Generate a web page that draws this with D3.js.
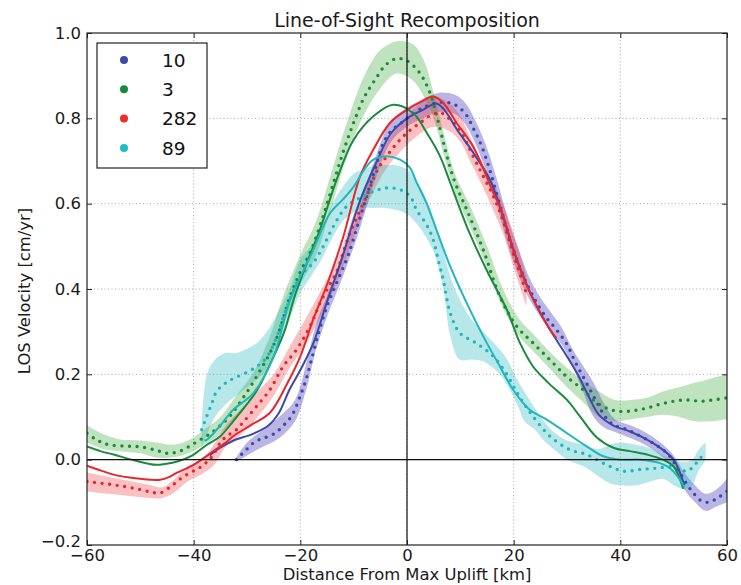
<!DOCTYPE html>
<html>
<head>
<meta charset="utf-8">
<script src="https://cdn.jsdelivr.net/npm/d3@7"></script>
<style>
  html, body { margin: 0; padding: 0; background: #fff; }
  svg { display: block; font-family: "DejaVu Sans", sans-serif; }
</style>
</head>
<body>
<svg id="chart" width="741" height="585"></svg>
<script>
// ---------------- data ----------------
const seriesNames = ["10", "3", "282", "89"];
const xTicks = [-60, -40, -20, 0, 20, 40, 60];
const yTicks = [-0.2, 0.0, 0.2, 0.4, 0.6, 0.8, 1.0];
const titleText = "Line-of-Sight Recomposition";
const xLabelText = "Distance From Max Uplift [km]";
const yLabelText = "LOS Velocity [cm/yr]";

// series "10" (blue)
const dots10 = [[-32,0.0],[-30,0.025],[-28.5,0.042],[-27,0.05],[-25,0.06],[-23,0.082],[-21.5,0.105],[-20,0.15],[-19,0.185],[-18,0.23],[-16.5,0.3],[-15,0.36],[-13,0.42],[-11,0.48],[-9,0.56],[-7.5,0.62],[-6,0.68],[-4.5,0.74],[-3,0.77],[-1,0.79],[1,0.81],[3,0.825],[5,0.835],[7,0.838],[9,0.832],[11,0.81],[12.5,0.775],[14,0.735],[15.5,0.68],[17,0.615],[18.5,0.55],[20,0.49],[22,0.425],[24,0.375],[26,0.335],[28,0.305],[30,0.27],[31.5,0.23],[33,0.195],[34.5,0.16],[36,0.125],[37.5,0.095],[39,0.08],[41,0.072],[43,0.06],[45,0.047],[47,0.032],[48.7,0.016],[50,-0.005],[51.2,-0.031],[52.5,-0.058],[53.7,-0.078],[55,-0.095],[56.2,-0.1],[57.5,-0.095],[58.7,-0.086],[60,-0.074]];
const band10 = [[-32,-0.005,0.005],[-30,0.01,0.04],[-27,0.03,0.07],[-24,0.05,0.1],[-21,0.09,0.14],[-19,0.16,0.22],[-17,0.26,0.32],[-15,0.335,0.385],[-12,0.43,0.48],[-9,0.535,0.585],[-6,0.655,0.705],[-3,0.745,0.795],[0,0.78,0.825],[3,0.8,0.845],[6,0.815,0.86],[9,0.81,0.855],[11,0.785,0.835],[13,0.735,0.79],[15,0.67,0.73],[17,0.59,0.65],[19,0.5,0.56],[21,0.43,0.49],[23,0.375,0.425],[25,0.335,0.38],[27,0.3,0.345],[29,0.27,0.31],[31,0.22,0.26],[33,0.16,0.22],[35,0.1,0.18],[37,0.075,0.13],[39,0.065,0.095],[42,0.05,0.08],[45,0.032,0.062],[48,0.005,0.035],[50,-0.02,0.01],[52,-0.07,-0.03],[54,-0.1,-0.06],[56,-0.12,-0.08],[58,-0.11,-0.07],[60,-0.1,-0.045]];
const solid10 = [[-37,0.01],[-35,0.028],[-32.5,0.045],[-29,0.06],[-26,0.08],[-24,0.11],[-22,0.165],[-20,0.21],[-17.5,0.275],[-15,0.37],[-12,0.48],[-9,0.6],[-6,0.69],[-3,0.765],[0,0.8],[3,0.82],[5.5,0.835],[7,0.82],[9.3,0.775],[12.4,0.72],[15.6,0.655],[17.4,0.594],[20.6,0.469],[23.7,0.375],[26.8,0.305],[30,0.242],[32,0.2],[34,0.15],[36,0.105],[38.7,0.08],[41.8,0.066],[45,0.047],[48,0.023],[50,0.0],[51,-0.025],[52,-0.06]];

// series "3" (green)
const dots3 = [[-60,0.062],[-58,0.045],[-56,0.035],[-53,0.032],[-50,0.03],[-47,0.022],[-45,0.015],[-43,0.018],[-41,0.03],[-39,0.045],[-37,0.06],[-35,0.08],[-33,0.105],[-31,0.14],[-29.4,0.17],[-27.5,0.21],[-25.7,0.25],[-24,0.3],[-22,0.38],[-20,0.44],[-18,0.49],[-16,0.56],[-14,0.64],[-12,0.72],[-10,0.79],[-8,0.85],[-6,0.89],[-4,0.925],[-2,0.94],[0,0.935],[2.4,0.906],[4.3,0.86],[6.2,0.775],[7.4,0.715],[9,0.65],[11.2,0.586],[14.3,0.492],[17.4,0.383],[20.6,0.312],[23.6,0.274],[26.8,0.234],[29.9,0.195],[33,0.164],[35.6,0.133],[38,0.118],[40,0.113],[42.5,0.115],[45,0.121],[47.5,0.13],[50,0.137],[52.5,0.14],[55,0.137],[57.5,0.14],[60,0.145]];
const band3 = [[-60,0.04,0.08],[-57,0.025,0.06],[-54,0.02,0.048],[-50,0.015,0.045],[-47,0.005,0.04],[-44,0.005,0.035],[-41,0.015,0.045],[-38,0.035,0.07],[-35,0.06,0.1],[-32,0.1,0.15],[-29,0.15,0.2],[-26,0.22,0.28],[-23,0.32,0.39],[-20,0.41,0.48],[-17,0.48,0.56],[-14,0.6,0.68],[-11,0.72,0.8],[-8,0.81,0.9],[-5,0.87,0.96],[-2,0.905,0.98],[1,0.89,0.975],[3,0.855,0.94],[5,0.8,0.86],[7,0.71,0.76],[9,0.625,0.67],[12,0.54,0.59],[15,0.45,0.5],[18,0.355,0.4],[21,0.29,0.33],[24,0.25,0.29],[27,0.21,0.25],[30,0.17,0.215],[33,0.135,0.185],[36,0.1,0.16],[39,0.09,0.14],[42,0.095,0.14],[45,0.1,0.145],[48,0.105,0.16],[51,0.1,0.17],[54,0.09,0.18],[57,0.09,0.19],[60,0.095,0.2]];
const solid3 = [[-60,0.031],[-57.5,0.02],[-55,0.012],[-51,-0.002],[-47,-0.012],[-44,-0.007],[-42,0.0],[-40,0.012],[-37.5,0.035],[-35,0.055],[-32.6,0.09],[-30,0.13],[-28,0.165],[-25,0.242],[-23,0.3],[-21,0.385],[-18.5,0.47],[-16.3,0.54],[-13.2,0.656],[-10,0.75],[-6.3,0.805],[-2.6,0.832],[1.1,0.813],[3.7,0.766],[6.2,0.711],[8.1,0.649],[11.2,0.547],[14.9,0.445],[18.7,0.352],[21.2,0.273],[23.6,0.219],[26.5,0.18],[30,0.14],[32.4,0.102],[35.6,0.052],[38.7,0.028],[41.8,0.02],[45,0.012],[48,0.0],[50,-0.016],[51.8,-0.068]];

// series "282" (red)
const dots282 = [[-60,-0.051],[-57.5,-0.055],[-55,-0.059],[-52.5,-0.064],[-50,-0.07],[-48,-0.076],[-46.3,-0.078],[-44.4,-0.064],[-42.5,-0.045],[-40.7,-0.031],[-38.8,-0.018],[-37.5,-0.005],[-36.4,0.01],[-35,0.04],[-33.8,0.055],[-32,0.07],[-30.7,0.088],[-28.2,0.125],[-25.7,0.164],[-23.2,0.219],[-20.7,0.258],[-18.2,0.312],[-16.3,0.367],[-14.5,0.41],[-13.2,0.44],[-10.7,0.531],[-7.6,0.617],[-5.5,0.68],[-3.8,0.711],[-2,0.74],[0,0.766],[2.4,0.789],[4.9,0.81],[6.5,0.812],[8.1,0.797],[9.9,0.773],[12.4,0.711],[14.3,0.664],[16.2,0.617],[18,0.56],[20,0.48],[22.4,0.39]];
const band282 = [[-60,-0.075,-0.03],[-56,-0.08,-0.04],[-52,-0.085,-0.05],[-48,-0.09,-0.06],[-46,-0.09,-0.065],[-44,-0.08,-0.05],[-41,-0.05,-0.015],[-38,-0.03,0.005],[-36,-0.01,0.04],[-34,0.03,0.08],[-31,0.06,0.12],[-28,0.1,0.16],[-25,0.15,0.2],[-22,0.215,0.265],[-19,0.27,0.33],[-16,0.34,0.4],[-13,0.42,0.47],[-10,0.52,0.575],[-7,0.61,0.665],[-4,0.68,0.74],[-1,0.725,0.79],[2,0.76,0.83],[5,0.78,0.85],[8,0.77,0.835],[10,0.745,0.805],[12,0.695,0.75],[14,0.645,0.7],[16,0.59,0.65],[18,0.53,0.6],[20,0.45,0.53],[22.4,0.36,0.43]];
const solid282 = [[-60,-0.014],[-57.5,-0.025],[-55,-0.035],[-52,-0.042],[-50,-0.045],[-46.3,-0.047],[-44.5,-0.04],[-43.2,-0.031],[-40,-0.012],[-36.3,0.02],[-34,0.04],[-32.6,0.055],[-29.4,0.08],[-25.7,0.11],[-22.6,0.175],[-20,0.242],[-17.6,0.328],[-15,0.41],[-12,0.52],[-8.8,0.664],[-6.3,0.727],[-3.2,0.789],[0,0.82],[2.5,0.838],[4.9,0.851],[6.8,0.836],[9.3,0.789],[12.4,0.734],[16.2,0.625],[17.4,0.594],[20.6,0.469],[23.7,0.375],[26.8,0.305],[28,0.285]];

// series "89" (cyan)
const dots89 = [[-38.5,0.07],[-37.6,0.1],[-36.5,0.135],[-35.7,0.16],[-34,0.18],[-32.6,0.19],[-30,0.205],[-28,0.22],[-26.3,0.24],[-24.4,0.289],[-22.6,0.355],[-20,0.43],[-17.6,0.461],[-15.7,0.5],[-13.8,0.547],[-11.3,0.594],[-8.2,0.617],[-6,0.63],[-3.8,0.637],[-1.3,0.633],[0.6,0.617],[1.8,0.585],[3.7,0.55],[4.9,0.516],[6,0.46],[6.8,0.422],[8.1,0.344],[9.9,0.297],[13,0.273],[16.2,0.242],[18.7,0.2],[20.5,0.16],[22,0.13],[23.7,0.1],[26.8,0.055],[30.6,0.023],[33.7,0.012],[37.4,-0.012],[40.6,-0.027],[43.7,-0.023],[46.8,-0.02],[50,-0.016],[52.4,-0.027],[53.7,-0.016],[55,0.004],[56,0.012]];
const band89 = [[-38.5,0.03,0.08],[-37.5,0.06,0.2],[-36,0.1,0.235],[-34,0.13,0.25],[-32,0.15,0.25],[-30,0.17,0.26],[-28,0.19,0.275],[-26,0.215,0.305],[-24,0.265,0.35],[-22,0.33,0.4],[-20,0.39,0.47],[-18,0.43,0.5],[-16,0.47,0.54],[-14,0.52,0.6],[-12,0.56,0.64],[-10,0.58,0.67],[-8,0.59,0.68],[-6,0.59,0.69],[-4,0.59,0.69],[-2,0.585,0.69],[0,0.575,0.68],[2,0.55,0.65],[4.9,0.49,0.57],[6.8,0.4,0.49],[8.1,0.29,0.43],[9.9,0.234,0.375],[12,0.235,0.33],[14.3,0.23,0.3],[17.4,0.2,0.258],[19,0.17,0.23],[21,0.12,0.18],[22,0.09,0.16],[24,0.07,0.12],[26,0.04,0.085],[28,0.02,0.06],[30,0.0,0.045],[33,-0.015,0.035],[36,-0.04,0.025],[38,-0.055,0.035],[40,-0.06,0.04],[43,-0.06,0.035],[46,-0.05,0.025],[48,-0.045,0.01],[50,-0.06,0.0],[52,-0.07,-0.005],[53.5,-0.06,0.0],[54.5,-0.03,0.02],[55.5,-0.01,0.035],[56,0.0,0.04]];
const solid89 = [[-38,0.045],[-37.5,0.047],[-35,0.08],[-32.6,0.117],[-28.8,0.156],[-25,0.242],[-21.9,0.375],[-18,0.48],[-14.4,0.578],[-12,0.61],[-10,0.64],[-8,0.68],[-6.3,0.703],[-3.8,0.711],[-1.3,0.703],[0.5,0.685],[1.8,0.65],[3.7,0.6],[4.9,0.56],[8.1,0.453],[11.2,0.367],[14.3,0.289],[17.4,0.219],[19.9,0.164],[23,0.117],[26.2,0.094],[30,0.062],[33.7,0.031],[36.8,0.008],[40,0.0],[43.7,0.0],[47.4,-0.008],[49.3,-0.02],[51.2,-0.047],[52,-0.065]];

// ---------------- styling ----------------
const lineColors = ["#3b4aa8", "#1a8a3c", "#e8262b", "#1fb6bf"];
const bandColors = ["#5a4fc0", "#2ca02c", "#ee3035", "#22b4bf"];
const bandOpacity = [0.42, 0.3, 0.3, 0.32];
const legendColors = ["#3a4ca8", "#188a3e", "#ef2b2b", "#1fbcc4"];

const series = [
  {name: seriesNames[0], dots: dots10, band: band10, solid: solid10},
  {name: seriesNames[1], dots: dots3, band: band3, solid: solid3},
  {name: seriesNames[2], dots: dots282, band: band282, solid: solid282},
  {name: seriesNames[3], dots: dots89, band: band89, solid: solid89}
];

const plot = {left: 87, top: 33, width: 640, height: 512};
const svg = d3.select("#chart");

const x = d3.scaleLinear().domain([-60, 60]).range([plot.left, plot.left + plot.width]);
const y = d3.scaleLinear().domain([-0.2, 1.0]).range([plot.top + plot.height, plot.top]);

const fontFam = "DejaVu Sans, sans-serif";

svg.append("defs").append("clipPath").attr("id", "clip")
  .append("rect").attr("x", plot.left).attr("y", plot.top)
  .attr("width", plot.width).attr("height", plot.height);

// grid
const grid = svg.append("g");
grid.selectAll("line.gx").data(xTicks.slice(1, -1)).enter().append("line")
  .attr("x1", d => x(d)).attr("x2", d => x(d))
  .attr("y1", plot.top).attr("y2", plot.top + plot.height)
  .attr("stroke", "#a8a8a8").attr("stroke-width", 1).attr("stroke-dasharray", "1,2.5");
grid.selectAll("line.gy").data(yTicks.slice(1, -1)).enter().append("line")
  .attr("y1", d => y(d)).attr("y2", d => y(d))
  .attr("x1", plot.left).attr("x2", plot.left + plot.width)
  .attr("stroke", "#a8a8a8").attr("stroke-width", 1).attr("stroke-dasharray", "1,2.5");

const curve = d3.curveCatmullRom.alpha(0.5);
const area = d3.area().x(d => x(d[0])).y0(d => y(d[1])).y1(d => y(d[2])).curve(curve);
const line = d3.line().x(d => x(d[0])).y(d => y(d[1])).curve(curve);

const marks = svg.append("g").attr("clip-path", "url(#clip)");

series.forEach((s, i) => {
  marks.append("path").datum(s.band).attr("d", area)
    .attr("fill", bandColors[i]).attr("fill-opacity", bandOpacity[i]).attr("stroke", "none");
});
series.forEach((s, i) => {
  marks.append("path").datum(s.dots).attr("d", line)
    .attr("fill", "none").attr("stroke", lineColors[i]).attr("stroke-width", 3.4)
    .attr("stroke-linecap", "round").attr("stroke-dasharray", "0,7.6");
});
series.forEach((s, i) => {
  marks.append("path").datum(s.solid).attr("d", line)
    .attr("fill", "none").attr("stroke", lineColors[i]).attr("stroke-width", 2);
});

// zero lines
svg.append("line").attr("x1", plot.left).attr("x2", plot.left + plot.width)
  .attr("y1", y(0)).attr("y2", y(0)).attr("stroke", "#111").attr("stroke-width", 1.2);
svg.append("line").attr("x1", x(0)).attr("x2", x(0))
  .attr("y1", plot.top).attr("y2", plot.top + plot.height).attr("stroke", "#111").attr("stroke-width", 1.2);

// axes (ticks inside)
const fmtX = d3.format("d");
const fmtY = d3.format(".1f");
const axB = svg.append("g").attr("transform", `translate(0,${plot.top + plot.height})`)
  .call(d3.axisBottom(x).tickValues(xTicks).tickFormat(fmtX).tickSizeInner(-5).tickSizeOuter(0).tickPadding(4));
const axT = svg.append("g").attr("transform", `translate(0,${plot.top})`)
  .call(d3.axisTop(x).tickValues(xTicks).tickFormat("").tickSizeInner(-5).tickSizeOuter(0));
const axL = svg.append("g").attr("transform", `translate(${plot.left},0)`)
  .call(d3.axisLeft(y).tickValues(yTicks).tickFormat(fmtY).tickSizeInner(-5).tickSizeOuter(0).tickPadding(6));
const axR = svg.append("g").attr("transform", `translate(${plot.left + plot.width},0)`)
  .call(d3.axisRight(y).tickValues(yTicks).tickFormat("").tickSizeInner(-5).tickSizeOuter(0));
[axB, axT, axL, axR].forEach(a => {
  a.select(".domain").remove();
  a.selectAll(".tick line").attr("stroke", "#222");
  a.selectAll("text").attr("font-family", fontFam).attr("font-size", 16.5).attr("fill", "#1a1a1a");
});
// lowest y label sits slightly above the x tick label, as in the reference
axL.selectAll(".tick").filter(d => d === yTicks[0]).select("text").attr("dy", "0.1em");

// frame
svg.append("rect").attr("x", plot.left).attr("y", plot.top)
  .attr("width", plot.width).attr("height", plot.height)
  .attr("fill", "none").attr("stroke", "#222").attr("stroke-width", 1.2);

// title and labels
svg.append("text").attr("x", x(0)).attr("y", 27).attr("text-anchor", "middle")
  .attr("font-family", fontFam).attr("font-size", 19).attr("fill", "#1a1a1a").text(titleText);
svg.append("text").attr("x", x(0)).attr("y", 580).attr("text-anchor", "middle")
  .attr("font-family", fontFam).attr("font-size", 16.4).attr("fill", "#1a1a1a").text(xLabelText);
svg.append("text").attr("transform", `translate(30,${(plot.top + plot.top + plot.height) / 2 + 2}) rotate(-90)`)
  .attr("text-anchor", "middle").attr("font-family", fontFam).attr("font-size", 16.4)
  .attr("fill", "#1a1a1a").text(yLabelText);

// legend
const lg = svg.append("g");
lg.append("rect").attr("x", 97).attr("y", 43).attr("width", 110).attr("height", 125)
  .attr("fill", "#fff").attr("stroke", "#222").attr("stroke-width", 1.2);
seriesNames.forEach((n, i) => {
  const cy = 60 + i * 29.3;
  lg.append("circle").attr("cx", 124).attr("cy", cy).attr("r", 4).attr("fill", legendColors[i]);
  lg.append("text").attr("x", 162).attr("y", cy + 6.8).attr("font-family", fontFam)
    .attr("font-size", 18.5).attr("fill", "#111").text(n);
});
</script>
</body>
</html>
